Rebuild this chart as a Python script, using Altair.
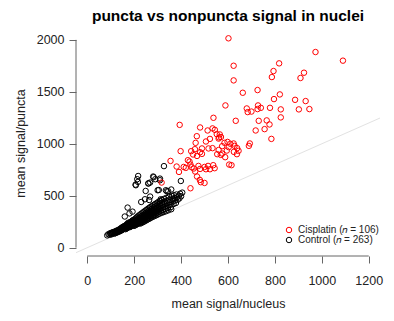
import altair as alt
import pandas as pd

title_text = "puncta vs nonpuncta signal in nuclei"
x_title = "mean signal/nucleus"
y_title = "mean signal/puncta"
groups = ["Cisplatin (\U0001D45B = 106)", "Control (\U0001D45B = 263)"]
group_colors = ["red", "black"]
x_ticks = [0, 200, 400, 600, 800, 1000, 1200]
y_ticks = [0, 500, 1000, 1500, 2000]
ref_line = [-200, 1500]  # identity line y = x

cis_x = [602, 973, 1090, 818, 624, 794, 924, 787, 909, 624,
         663, 726, 821, 796, 886, 931, 589, 728, 680, 740,
         726, 779, 684, 825, 902, 947, 538, 633, 731, 765,
         825, 777, 394, 481, 718, 756, 513, 544, 552, 467,
         523, 562, 785, 462, 506, 598, 624, 693, 689, 565,
         560, 570, 585, 459, 489, 443, 398, 517, 534, 575,
         603, 628, 639, 645, 625, 638, 595, 575, 554, 588,
         569, 481, 489, 451, 468, 355, 429, 436, 440, 381,
         411, 420, 445, 454, 474, 481, 500, 506, 515, 523,
         537, 543, 460, 391, 468, 480, 484, 500, 440, 605,
         615, 317, 534, 610, 700, 560]
cis_y = [2015, 1883, 1800, 1774, 1751, 1700, 1684, 1642, 1633, 1610,
         1491, 1517, 1475, 1430, 1423, 1411, 1369, 1369, 1340, 1346,
         1334, 1346, 1305, 1331, 1331, 1334, 1250, 1221, 1221, 1225,
         1254, 1186, 1182, 1157, 1128, 1141, 1128, 1134, 1093, 1073,
         1047, 1061, 1047, 1009, 1022, 1018, 1003, 1003, 980, 1090,
         1050, 1065, 1009, 948, 955, 929, 929, 955, 958, 977,
         967, 980, 958, 932, 922, 900, 935, 906, 900, 871,
         893, 919, 903, 897, 883, 835, 842, 829, 800, 781,
         777, 768, 774, 762, 787, 758, 777, 755, 787, 755,
         794, 765, 733, 729, 685, 652, 630, 623, 572, 800,
         794, 627, 1148, 1000, 1310, 940]

ctl_points = [
    (85, 118), (90, 130), (95, 125), (98, 140), (100, 132), (103, 128), (105, 145), (108, 138), (110, 150), (112, 142),
    (115, 135), (117, 155), (118, 148), (120, 140), (122, 160), (124, 152), (125, 145), (127, 165), (128, 158), (130, 150),
    (132, 170), (133, 160), (135, 155), (136, 175), (138, 168), (140, 160), (141, 182), (142, 172), (144, 165), (145, 190),
    (146, 178), (148, 170), (149, 195), (150, 185), (151, 175), (152, 200), (154, 190), (155, 180), (156, 205), (157, 195),
    (158, 185), (160, 210), (161, 200), (162, 190), (163, 178), (164, 215), (165, 205), (166, 195), (167, 185), (168, 222),
    (169, 210), (170, 200), (170, 188), (171, 230), (172, 215), (173, 205), (174, 195), (175, 240), (176, 225), (177, 210),
    (178, 200), (179, 235), (180, 222), (181, 212), (182, 198), (183, 245), (184, 230), (185, 218), (186, 205), (187, 250),
    (188, 238), (189, 225), (190, 212), (191, 258), (192, 242), (193, 230), (194, 218), (195, 265), (196, 250), (197, 236),
    (198, 222), (199, 210), (200, 270), (201, 255), (202, 242), (203, 228), (204, 215), (205, 280), (206, 262), (207, 248),
    (208, 235), (209, 222), (210, 290), (211, 272), (212, 256), (213, 242), (214, 228), (215, 300), (216, 280), (217, 265),
    (218, 250), (219, 236), (220, 310), (221, 290), (222, 272), (223, 258), (224, 244), (225, 232), (226, 320), (227, 298),
    (228, 280), (229, 265), (230, 250), (231, 238), (232, 330), (233, 305), (234, 288), (235, 272), (236, 258), (237, 245),
    (238, 340), (239, 315), (240, 298), (241, 282), (242, 266), (243, 252), (244, 350), (245, 325), (246, 305), (247, 290),
    (248, 274), (249, 260), (250, 360), (251, 335), (252, 315), (253, 298), (254, 282), (255, 268), (256, 370), (257, 345),
    (258, 325), (259, 308), (260, 290), (261, 275), (262, 380), (263, 355), (264, 335), (265, 316), (266, 298), (267, 282),
    (268, 390), (269, 365), (270, 345), (271, 325), (272, 306), (273, 290), (275, 400), (276, 375), (277, 352), (278, 332),
    (279, 314), (280, 298), (282, 410), (283, 385), (284, 362), (285, 342), (286, 322), (287, 305), (289, 420), (290, 395),
    (291, 372), (292, 350), (293, 330), (294, 312), (296, 430), (297, 405), (298, 382), (299, 360), (300, 340), (301, 320),
    (303, 440), (304, 415), (305, 392), (306, 370), (307, 348), (308, 328), (310, 450), (311, 425), (312, 400), (313, 378),
    (314, 356), (316, 335), (318, 460), (319, 432), (320, 408), (322, 385), (323, 362), (325, 342), (327, 470), (328, 442),
    (330, 418), (331, 395), (333, 372), (335, 350), (337, 480), (339, 452), (340, 428), (342, 405), (344, 382), (346, 360),
    (348, 490), (350, 462), (352, 438), (354, 412), (356, 390), (358, 370), (361, 498), (363, 470), (365, 445), (368, 420),
    (370, 505), (372, 478), (375, 455), (378, 430), (380, 512), (383, 485), (386, 462), (390, 500), (393, 475), (396, 520),
    (400, 495), (405, 530),
    (217, 690), (213, 659), (216, 633), (206, 607), (261, 620), (281, 685), (290, 659), (310, 665), (305, 555), (339, 543),
    (268, 492), (246, 466), (172, 386), (193, 347), (313, 466), (283, 678), (268, 627), (327, 785), (300, 553), (335, 553),
    (264, 459), (399, 642), (310, 649), (260, 617), (345, 543), (249, 546), (207, 601), (230, 440), (180, 330), (160, 300),
    (358, 560),
]

FONT = "Liberation Sans"
W, H = 304, 226

rows = [{"x": x, "y": y, "g": groups[1]} for x, y in ctl_points]
rows += [{"x": x, "y": y, "g": groups[0]} for x, y in zip(cis_x, cis_y)]
df = pd.DataFrame(rows)

x_scale = alt.Scale(domain=[-48, 1248], nice=False, zero=False)
y_scale = alt.Scale(domain=[-80, 2095], nice=False, zero=False)

x_axis = alt.Axis(values=x_ticks, format="d", domain=False, grid=False, tickSize=7, tickColor="#666",
                  labelFont=FONT, labelFontSize=12.5, labelColor="#222", labelPadding=11,
                  title=x_title, titleFont=FONT, titleFontSize=12.5, titleFontWeight="normal",
                  titleColor="#222", titlePadding=11)
y_axis = alt.Axis(values=y_ticks, format="d", domain=False, grid=False, tickSize=7, tickColor="#666",
                  labelFont=FONT, labelFontSize=12.5, labelColor="#222", labelPadding=5,
                  title=y_title, titleFont=FONT, titleFontSize=12.5, titleFontWeight="normal",
                  titleColor="#222", titlePadding=9)

ref_df = pd.DataFrame({"x": ref_line, "y": ref_line})
ref = alt.Chart(ref_df).mark_line(color="#e2e2e2", strokeWidth=1, clip=True).encode(
    x=alt.X("x:Q", scale=x_scale, axis=x_axis),
    y=alt.Y("y:Q", scale=y_scale, axis=y_axis),
)

xline = alt.Chart(pd.DataFrame({"x": [x_ticks[0]], "x2": [x_ticks[-1]]})).mark_rule(
    color="#666", strokeWidth=1).encode(
    x=alt.X("x:Q", scale=x_scale, axis=x_axis), x2="x2:Q", y=alt.value(H))
yline = alt.Chart(pd.DataFrame({"y": [y_ticks[0]], "y2": [y_ticks[-1]]})).mark_rule(
    color="#666", strokeWidth=1).encode(
    y=alt.Y("y:Q", scale=y_scale, axis=y_axis), y2="y2:Q", x=alt.value(0))

points = alt.Chart(df).mark_point(filled=False, size=30, strokeWidth=1, opacity=1).encode(
    x=alt.X("x:Q", scale=x_scale, axis=x_axis),
    y=alt.Y("y:Q", scale=y_scale, axis=y_axis),
    color=alt.Color("g:N", scale=alt.Scale(domain=groups, range=group_colors),
                    legend=alt.Legend(title=None, orient="none", legendX=208, legendY=195,
                                      labelFont=FONT, labelFontSize=10, labelColor="#222",
                                      symbolType="circle", symbolSize=30, symbolStrokeWidth=1,
                                      rowPadding=0, padding=0, labelOffset=4)),
)

chart = alt.layer(ref, xline, yline, points).properties(
    width=W, height=H,
    padding={"left": 68, "top": 22, "right": 6, "bottom": 57},
    autosize=alt.AutoSizeParams(type="none"),
    title=alt.TitleParams(text=title_text, font=FONT, fontSize=15.5, fontWeight="bold",
                          color="#000", anchor="middle", offset=6),
).configure_view(strokeWidth=0)

chart.save("out.html", embed_options={"renderer": "svg", "actions": False})
